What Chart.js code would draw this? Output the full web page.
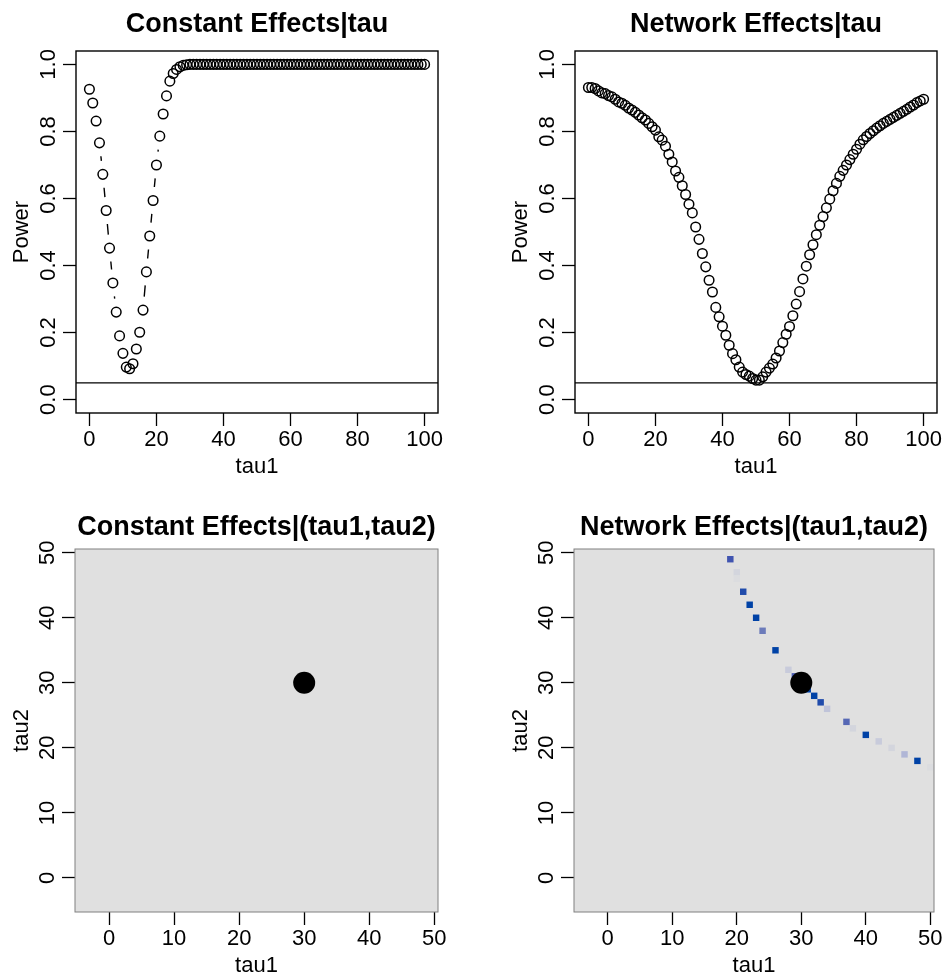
<!DOCTYPE html>
<html><head><meta charset="utf-8">
<script src="https://cdn.jsdelivr.net/npm/chart.js@4.4.0/dist/chart.umd.min.js"></script>
<style>
html,body{margin:0;padding:0;background:#fff;}
#wrap{position:relative;width:945px;height:978px;overflow:hidden;background:#fff;}
canvas{position:absolute;}
</style></head><body>
<div id="wrap">
<canvas id="c1"></canvas><canvas id="c2"></canvas><canvas id="c3"></canvas><canvas id="c4"></canvas>
</div>
<script>
// ---------- data ----------
const tau1Grid = [0,1,2,3,4,5,6,7,8,9,10,11,12,13,14,15,16,17,18,19,20,21,22,23,24,25,26,27,28,29,30,31,32,33,34,35,36,37,38,39,40,41,42,43,44,45,46,47,48,49,50,51,52,53,54,55,56,57,58,59,60,61,62,63,64,65,66,67,68,69,70,71,72,73,74,75,76,77,78,79,80,81,82,83,84,85,86,87,88,89,90,91,92,93,94,95,96,97,98,99,100];
const powerConstant = [0.926,0.885,0.831,0.766,0.672,0.564,0.452,0.348,0.261,0.190,0.138,0.097,0.092,0.107,0.151,0.201,0.267,0.381,0.488,0.594,0.700,0.786,0.852,0.906,0.950,0.973,0.985,0.993,0.997,0.999,
1,1,1,1,1,1,1,1,1,1,1,1,1,1,1,1,1,1,1,1,1,1,1,1,1,1,1,1,1,1,1,1,1,1,1,1,1,1,1,1,1,1,1,1,1,1,1,1,1,1,1,1,1,1,1,1,1,1,1,1,1,1,1,1,1,1,1,1,1,1,1];
const powerNetwork = [0.931,0.931,0.928,0.921,0.915,0.913,0.907,0.903,0.896,0.888,0.884,0.878,0.870,0.864,0.857,0.849,0.841,0.834,0.824,0.814,0.804,0.784,0.774,0.756,0.732,0.709,0.682,0.663,0.638,0.612,0.583,0.557,0.515,0.478,0.436,0.396,0.356,0.321,0.275,0.247,0.219,0.192,0.162,0.137,0.119,0.097,0.082,0.075,0.070,0.063,0.058,
0.058,0.068,0.082,0.094,0.106,0.124,0.145,0.170,0.195,0.218,0.250,0.285,0.322,0.360,0.398,0.432,0.462,0.492,0.520,0.546,0.572,0.598,0.623,0.645,0.666,0.684,0.700,0.716,0.732,0.747,0.762,0.775,0.785,0.794,0.802,0.810,0.817,0.824,0.830,0.836,0.842,0.848,0.854,0.860,0.866,0.873,0.879,0.886,0.891,0.896];
const alphaLevel = 0.05;
const tauTicks = [0,20,40,60,80,100];
const tauTickLabels = ['0','20','40','60','80','100'];
const powerTicks = [0,0.2,0.4,0.6,0.8,1.0];
const powerTickLabels = ['0.0','0.2','0.4','0.6','0.8','1.0'];
const pairTicks = [0,10,20,30,40,50];
const pairTickLabels = ['0','10','20','30','40','50'];
const trueTau1 = [30];
const trueTau2 = [30];
const cellTau1 = [19,20,20,21,22,23,24,26,28,29,31,32,33,34,37,38,40,42,44,46,48,50];
const cellTau2 = [49,47,46,44,42,40,38,35,32,31,29,28,27,26,24,23,22,21,20,19,18,17];
const cellPower = [0.8,0.08,0.03,0.9,1.0,1.0,0.6,1.0,0.15,0.75,1.0,1.0,0.9,0.2,0.7,0.08,1.0,0.15,0.08,0.3,1.0,0.03];

// ---------- helpers ----------
const FONT = "'Liberation Sans', Arial, Helvetica, sans-serif";
const rampStops = [[0,[224,224,224]],[0.3,[176,182,214]],[0.6,[108,123,186]],[0.8,[64,84,176]],[1,[0,66,166]]];
function rampColor(v){
  for(let i=1;i<rampStops.length;i++){
    const [a,ca]=rampStops[i-1],[b,cb]=rampStops[i];
    if(v<=b){const t=(v-a)/(b-a);return 'rgb('+ca.map((c,k)=>Math.round(c+(cb[k]-c)*t)).join(',')+')';}
  }
  return 'rgb(0,66,166)';
}

function makePanel(id, pos, area, cfg){
  const cv=document.getElementById(id);
  cv.width=pos.w; cv.height=pos.h;
  cv.style.left=pos.x+'px'; cv.style.top=pos.y+'px';
  cv.style.width=pos.w+'px'; cv.style.height=pos.h+'px';
  const titleLH=27*1.2;
  const plugins=[{
    id:'bgBox',
    beforeDatasetsDraw(chart){
      if(!cfg.bg) return;
      const a=chart.chartArea,ctx=chart.ctx;
      ctx.save();ctx.fillStyle=cfg.bg;ctx.fillRect(a.left,a.top,a.right-a.left,a.bottom-a.top);ctx.restore();
    },
    afterDatasetsDraw(chart){
      const a=chart.chartArea,ctx=chart.ctx;
      if(cfg.gapLine!==undefined){
        const pts=chart.getDatasetMeta(cfg.gapLine).data;
        const gap=13.5;
        ctx.save();ctx.strokeStyle='#000';ctx.lineWidth=1.4;ctx.beginPath();
        for(let i=0;i<pts.length-1;i++){
          const p0=pts[i],p1=pts[i+1];
          const dx=p1.x-p0.x,dy=p1.y-p0.y,d=Math.hypot(dx,dy);
          if(d>2*gap){const ux=dx/d,uy=dy/d;ctx.moveTo(p0.x+ux*gap,p0.y+uy*gap);ctx.lineTo(p1.x-ux*gap,p1.y-uy*gap);}
        }
        ctx.stroke();ctx.restore();
      }
      ctx.save();ctx.strokeStyle=cfg.boxColor;ctx.lineWidth=cfg.boxWidth;
      ctx.strokeRect(a.left,a.top,a.right-a.left,a.bottom-a.top);ctx.restore();
    },
    afterDraw(chart){
      const s=chart.scales.y,ctx=chart.ctx,a=chart.chartArea;
      ctx.save();ctx.fillStyle='#000';ctx.font='22px '+FONT;ctx.textAlign='center';ctx.textBaseline='middle';
      s.ticks.forEach((t,i)=>{
        const py=s.getPixelForValue(t.value);
        ctx.save();ctx.translate(a.left-27.5,py);ctx.rotate(-Math.PI/2);ctx.fillText(cfg.yLabels[i],0,0);ctx.restore();
      });
      ctx.restore();
    }
  }];
  return new Chart(cv,{
    type:'scatter',
    data:{datasets:cfg.datasets},
    options:{
      responsive:false,animation:false,devicePixelRatio:1,
      layout:{padding:{left:0,top:0,right:pos.w-area.right,bottom:0}},
      plugins:{
        legend:{display:false},tooltip:{enabled:false},
        title:{display:true,text:cfg.title,fullSize:false,color:'#000',
          font:{family:FONT,size:27,weight:'bold',lineHeight:1.2},
          padding:{top:cfg.titleCenter-titleLH/2,bottom:area.top-(cfg.titleCenter-titleLH/2)-titleLH}}
      },
      scales:{
        x:{type:'linear',min:cfg.xMin,max:cfg.xMax,
          afterBuildTicks:s=>{s.ticks=cfg.xTicks.map(v=>({value:v}));},
          afterFit:s=>{s.height=pos.h-area.bottom;},
          grid:{drawOnChartArea:false,drawTicks:true,tickLength:13,tickColor:'#000',tickWidth:1.3,color:'#000'},
          border:{display:false},
          ticks:{color:'#000',font:{family:FONT,size:22},padding:cfg.xTickPad,maxRotation:0,minRotation:0,autoSkip:false,
            callback:(v)=>cfg.xLabels[cfg.xTicks.indexOf(v)]},
          title:{display:true,text:cfg.xTitle,color:'#000',font:{family:FONT,size:22,lineHeight:1},padding:{top:0,bottom:cfg.xTitlePad}}
        },
        y:{type:'linear',min:cfg.yMin,max:cfg.yMax,
          afterBuildTicks:s=>{s.ticks=cfg.yTicks.map(v=>({value:v}));},
          afterFit:s=>{s.width=area.left;},
          grid:{drawOnChartArea:false,drawTicks:true,tickLength:13,tickColor:'#000',tickWidth:1.3,color:'#000'},
          border:{display:false},
          ticks:{display:false},
          title:{display:true,text:cfg.yTitle,color:'#000',font:{family:FONT,size:22,lineHeight:1},padding:{top:11,bottom:0}}
        }
      }
    },
    plugins
  });
}

const xMinTau=-4, xMaxTau=104;
function tauDatasets(power){
  return [
    {data:tau1Grid.map((t,i)=>({x:t,y:power[i]})),pointRadius:4.8,pointBorderWidth:1.5,pointBorderColor:'#000',pointBackgroundColor:'rgba(0,0,0,0)',showLine:false,order:0},
    {type:'line',data:[{x:xMinTau,y:alphaLevel},{x:xMaxTau,y:alphaLevel}],borderColor:'#000',borderWidth:1.4,pointRadius:0,order:1}
  ];
}
const cellRadius = ctx => {const s=ctx.chart.scales.x;return Math.abs(s.getPixelForValue(1)-s.getPixelForValue(0))/(2*Math.SQRT1_2);};

const topArea={left:76,top:51,right:438,bottom:413};
const botArea={left:75,top:60,right:438,bottom:423};
const pairMin=-5.23, pairMax=50.57;

makePanel('c1',{x:0,y:0,w:499,h:489},topArea,{
  title:'Constant Effects|tau',titleCenter:25,datasets:tauDatasets(powerConstant),gapLine:0,
  xMin:xMinTau,xMax:xMaxTau,yMin:-0.04,yMax:1.04,xTicks:tauTicks,xLabels:tauTickLabels,yTicks:powerTicks,yLabels:powerTickLabels,
  xTitle:'tau1',yTitle:'Power',xTickPad:1,xTitlePad:11,boxColor:'#000',boxWidth:1.4
});
makePanel('c2',{x:499,y:0,w:446,h:489},topArea,{
  title:'Network Effects|tau',titleCenter:25,datasets:tauDatasets(powerNetwork),
  xMin:xMinTau,xMax:xMaxTau,yMin:-0.04,yMax:1.04,xTicks:tauTicks,xLabels:tauTickLabels,yTicks:powerTicks,yLabels:powerTickLabels,
  xTitle:'tau1',yTitle:'Power',xTickPad:1,xTitlePad:11,boxColor:'#000',boxWidth:1.4
});
const dotDataset={data:trueTau1.map((t,i)=>({x:t,y:trueTau2[i]})),pointRadius:11,pointBorderWidth:0,pointBackgroundColor:'#000',order:0};
makePanel('c3',{x:0,y:489,w:499,h:489},botArea,{
  title:'Constant Effects|(tau1,tau2)',titleCenter:39,bg:'#e0e0e0',datasets:[dotDataset],
  xMin:pairMin,xMax:pairMax,yMin:pairMin,yMax:pairMax,xTicks:pairTicks,xLabels:pairTickLabels,yTicks:pairTicks,yLabels:pairTickLabels,
  xTitle:'tau1',yTitle:'tau2',xTickPad:1,xTitlePad:1,boxColor:'#808080',boxWidth:1
});
makePanel('c4',{x:499,y:489,w:446,h:489},botArea,{
  title:'Network Effects|(tau1,tau2)',titleCenter:39,bg:'#e0e0e0',
  datasets:[
    Object.assign({},dotDataset),
    {data:cellTau1.map((t,i)=>({x:t,y:cellTau2[i],v:cellPower[i]})),pointStyle:'rect',pointRadius:cellRadius,pointBorderWidth:0,
     pointBackgroundColor:ctx=>rampColor(ctx.raw?ctx.raw.v:0),order:1}
  ],
  xMin:pairMin,xMax:pairMax,yMin:pairMin,yMax:pairMax,xTicks:pairTicks,xLabels:pairTickLabels,yTicks:pairTicks,yLabels:pairTickLabels,
  xTitle:'tau1',yTitle:'tau2',xTickPad:1,xTitlePad:1,boxColor:'#808080',boxWidth:1
});
</script>
</body></html>
